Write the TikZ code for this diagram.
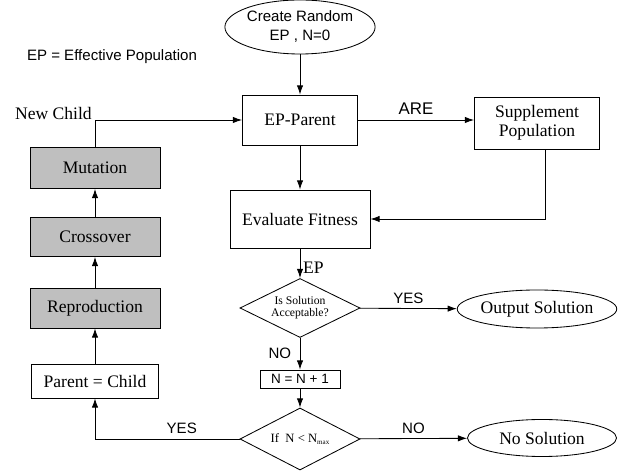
\documentclass[tikz,border=0pt]{standalone}
\usepackage{fontspec}
\setmainfont{Liberation Serif}
\setsansfont{Liberation Sans}
\usetikzlibrary{shapes.geometric, arrows.meta}

\tikzset{
    box/.style={rectangle, draw, inner sep=0pt, align=center, font=\fontsize{12.5}{13.5}\selectfont},
    opbox/.style={box, fill=black!25},
    oval/.style={ellipse, draw, inner sep=0pt, align=center, font=\fontsize{12.5}{13.5}\selectfont},
    test/.style={diamond, draw, inner sep=0pt, aspect=2, align=center},
    lbl/.style={font=\sffamily\fontsize{10.7}{13.5}\selectfont},
    arr/.style={-{Latex[length=6.5pt, width=4.5pt]}}
}

\begin{document}
\begin{tikzpicture}[x=0.025cm, y=-0.025cm, line width=0.6pt]
    \useasboundingbox (0, 0) rectangle (626, 471);

    % 主な流れ
    \node[oval, lbl, minimum width=3.5cm, minimum height=1.35cm] (start) at (300, 27) {Create Random\\EP , N=0};
    \node[lbl] (note) at (112, 57) {EP = Effective Population};

    \node[box, minimum width=2.875cm, minimum height=1.25cm] (parent) at (300, 120) {EP-Parent};
    \node[box, minimum width=3.125cm, minimum height=1.3cm] (supp) at (537, 123) {Supplement\\Population};
    \node[box, minimum width=3.5cm, minimum height=1.45cm] (eval) at (300, 219) {Evaluate Fitness};
    \node[test, minimum width=3cm, minimum height=1.475cm, font=\fontsize{8.3}{8.8}\selectfont] (check) at (300, 308) {Is Solution\\Acceptable?};
    \node[oval, minimum width=3.725cm, minimum height=0.95cm] (output) at (537, 309) {Output Solution};
    \node[box, lbl, minimum width=2cm, minimum height=0.45cm, font=\sffamily\fontsize{9.6}{11}\selectfont] (count) at (300, 379) {N = N + 1};
    \node[test, minimum width=3cm, minimum height=1.55cm, font=\fontsize{9}{10}\selectfont] (limit) at (300, 439) {If~~N < N\raisebox{-0.4ex}{\fontsize{5}{6}\selectfont max}};
    \node[oval, minimum width=3.725cm, minimum height=0.925cm] (nosol) at (542, 438) {No Solution};

    \node[box, minimum width=3.175cm, minimum height=0.85cm] (pc) at (95, 381) {Parent = Child};
    \node[opbox, minimum width=3.25cm, minimum height=1cm] (repro) at (95, 308) {Reproduction};
    \node[opbox, minimum width=3.25cm, minimum height=0.975cm] (cross) at (95, 237) {Crossover};
    \node[opbox, minimum width=3.25cm, minimum height=1.025cm] (mut) at (95, 168) {Mutation};

    \draw[arr] (start) -- (parent);
    \draw[arr] (parent) -- node[lbl, above, font=\sffamily\fontsize{12}{13}\selectfont] {ARE} (parent -| supp.west);
    \draw[arr] ([xshift=0.2cm]supp.south) |- (eval.east);
    \draw[arr] (parent) -- (eval);
    \draw[arr] (eval) -- node[pos=0.65, right, inner sep=2pt, font=\fontsize{12.5}{13}\selectfont] {EP} (check);
    \draw[arr] (check) -- node[lbl, above] {YES} (output);
    \draw[arr] (check) -- node[lbl, left, inner sep=6pt] {NO} (count);
    \draw[arr] (count) -- (limit);
    \draw[arr] (limit) -- node[lbl, above] {NO} (nosol);
    \draw[arr] (limit) -| node[lbl, pos=0.2, above] {YES} (pc);

    \draw[arr] (pc) -- (repro);
    \draw[arr] (repro) -- (cross);
    \draw[arr] (cross) -- (mut);
    \draw[arr] (mut) |- node[pos=0.5, anchor=base east, inner sep=2pt, font=\fontsize{12.5}{13}\selectfont] {New Child} (parent);

\end{tikzpicture}
\end{document}
